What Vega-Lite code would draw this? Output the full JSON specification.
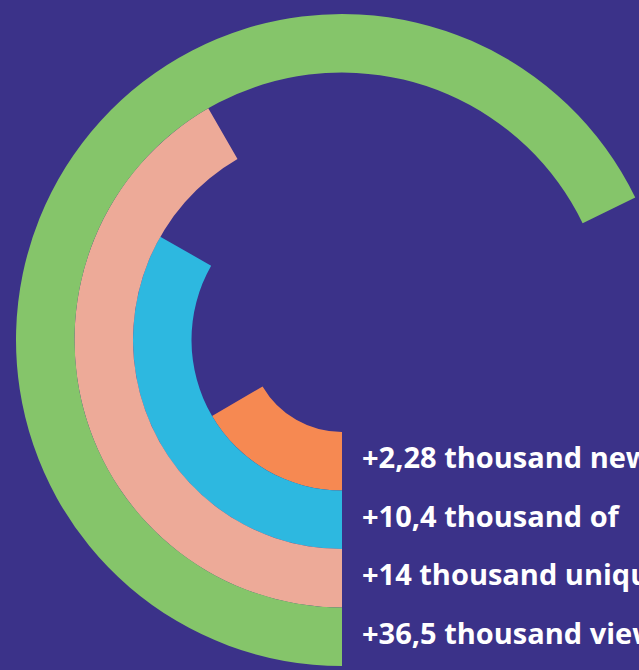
{
  "$schema": "https://vega.github.io/schema/vega-lite/v6.json",
  "width": 594,
  "height": 660,
  "padding": {"left": 45, "top": 10, "right": 0, "bottom": 0},
  "autosize": {"type": "none"},
  "background": "#3b3289",
  "config": {"view": {"stroke": null}},
  "data": {"values": [
    {"label": "+2,28 thousand new", "value": 2.28},
    {"label": "\u00a0+10,4 thousand of", "value": 10.4},
    {"label": "+14 thousand unique", "value": 14},
    {"label": "+36,5 thousand views", "value": 36.5}
  ]},
  "layer": [
    {
      "mark": {"type": "arc"},
      "encoding": {
        "theta": {"field": "value", "type": "quantitative",
          "scale": {"domain": [0, 2.28, 10.4, 14, 36.5], "range": [3.14159, 4.18355, 5.22901, 5.75959, 7.40194]}},
        "theta2": {"datum": 0},
        "radius": {"field": "value", "type": "ordinal",
          "scale": {"type": "band", "domain": [2.28, 10.4, 14, 36.5], "range": [92, 326], "paddingInner": 0, "paddingOuter": 0}},
        "color": {"field": "value", "type": "ordinal", "legend": null,
          "scale": {"domain": [2.28, 10.4, 14, 36.5], "range": ["#f68952", "#2db8e0", "#edaa98", "#85c56a"]}}
      }
    },
    {
      "mark": {"type": "text", "align": "left", "baseline": "middle", "dx": 20, "dy": -2,
        "font": "Open Sans", "fontWeight": "bold", "fontSize": 29, "color": "#ffffff"},
      "encoding": {
        "theta": {"datum": 0, "type": "quantitative"},
        "radius": {"field": "value", "type": "ordinal"},
        "text": {"field": "label"}
      }
    }
  ]
}
